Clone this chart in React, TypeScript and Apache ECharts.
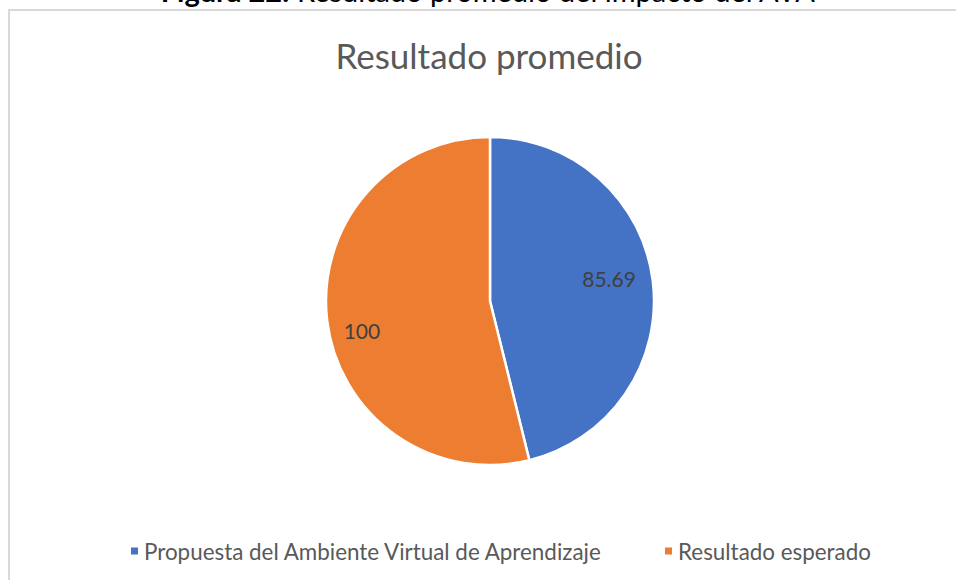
import React, { useEffect, useRef } from "react";
import * as echarts from "echarts";

const categories = ["Propuesta del Ambiente Virtual de Aprendizaje", "Resultado esperado"];
const values = [85.69, 100];
const colors = ["#4472C4", "#ED7D31"];
const chartTitle = "Resultado promedio";
const captionBold = "Figura 22.";
const captionRest = " Resultado promedio del impacto del AVA";

const FONT = "Lato, 'Open Sans', sans-serif";
const labelOffsets = [
  [-9, -7],
  [0, 14],
];

export default function App() {
  const ref = useRef<HTMLDivElement>(null);
  useEffect(() => {
    if (!ref.current) return;
    const chart = echarts.init(ref.current, null, { renderer: "svg" });
    const data = categories.map((name, i) => ({ name, value: values[i], itemStyle: { color: colors[i] } }));
    chart.setOption({
      animation: false,
      backgroundColor: "#ffffff",
      textStyle: { fontFamily: FONT },
      graphic: [
        {
          type: "rect",
          shape: { x: 9, y: 10, width: 1000, height: 700 },
          style: { fill: "#ffffff", stroke: "#d9d9d9", lineWidth: 2 },
          z: -10,
          silent: true,
        },
        {
          type: "text",
          x: 488,
          y: 5,
          style: {
            text: "{b|" + captionBold + "}{r|" + captionRest + "}",
            textAlign: "center",
            textVerticalAlign: "bottom",
            rich: {
              b: { fontFamily: FONT, fontSize: 29, fontWeight: "bold", fill: "#000000" },
              r: { fontFamily: FONT, fontSize: 29, fill: "#000000" },
            },
          },
          silent: true,
        },
        {
          type: "text",
          x: 489,
          y: 55,
          style: {
            text: chartTitle,
            fontFamily: FONT,
            fontSize: 35,
            fill: "#595959",
            textAlign: "center",
            textVerticalAlign: "middle",
          },
          silent: true,
        },
      ],
      legend: {
        data: categories,
        left: 124,
        top: 535,
        icon: "rect",
        itemWidth: 9,
        itemHeight: 9,
        itemGap: 60,
        textStyle: { fontFamily: FONT, fontSize: 22.4, color: "#595959" },
      },
      series: [
        {
          type: "pie",
          center: [490, 301],
          radius: [0, 164],
          startAngle: 90,
          clockwise: true,
          label: { show: false },
          labelLine: { show: false },
          itemStyle: { borderColor: "#ffffff", borderWidth: 2.5 },
          emphasis: { disabled: true },
          data,
        },
        {
          type: "pie",
          center: [490, 301],
          radius: [0, 252],
          startAngle: 90,
          clockwise: true,
          silent: true,
          z: 5,
          itemStyle: { color: "transparent", borderWidth: 0 },
          label: {
            show: true,
            position: "inside",
            formatter: (p: any) => String(p.value),
            fontFamily: FONT,
            fontSize: 21,
            color: "#404040",
          },
          labelLine: { show: false },
          emphasis: { disabled: true },
          data: categories.map((name, i) => ({
            name,
            value: values[i],
            itemStyle: { color: "transparent" },
            label: { offset: labelOffsets[i] },
          })),
        },
      ],
    });
    return () => chart.dispose();
  }, []);
  return (
    <div
      ref={ref}
      style={{ position: "fixed", left: 0, top: 0, width: 956, height: 580 }}
    />
  );
}
